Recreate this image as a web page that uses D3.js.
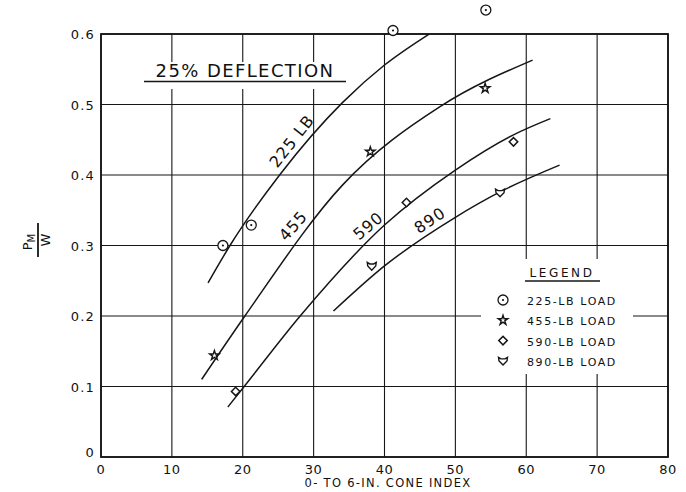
<!DOCTYPE html>
<html>
<head>
<meta charset="utf-8">
<script src="https://cdn.jsdelivr.net/npm/d3@7"></script>
<style>
  body { margin: 0; background: #fff; }
  text { font-family: "DejaVu Sans", sans-serif; fill: #111; }
</style>
</head>
<body>
<div id="chart"></div>
<script>
// ---- data ----
const xTicks = [0, 10, 20, 30, 40, 50, 60, 70, 80]
const yTicks = [0, 0.1, 0.2, 0.3, 0.4, 0.5, 0.6]
const yTickLabels = ["0", "0.1", "0.2", "0.3", "0.4", "0.5", "0.6"]

const loads = ["225", "455", "590", "890"]
const legendLabels = ["225-LB LOAD", "455-LB LOAD", "590-LB LOAD", "890-LB LOAD"]
const curveLabels = ["225 LB", "455", "590", "890"]

// measured points [cone index, Pm/W]
const points225 = [[17.2, 0.300], [21.2, 0.329], [41.2, 0.605], [54.3, 0.634]]
const points455 = [[16.0, 0.144], [38.0, 0.433], [54.2, 0.523]]
const points590 = [[19.0, 0.093], [43.1, 0.361], [58.2, 0.447]]
const points890 = [[38.2, 0.271], [56.3, 0.375]]

// hand drawn fitted curves
const curve225 = [[15.1, 0.247], [18.2, 0.300], [25.2, 0.400], [34.1, 0.503], [40, 0.556], [46.3, 0.600]]
const curve455 = [[14.2, 0.110], [20.3, 0.200], [34.1, 0.386], [48, 0.498], [60.9, 0.563]]
const curve590 = [[17.9, 0.071], [20.2, 0.100], [28.1, 0.200], [40, 0.329], [50, 0.407], [58.2, 0.457], [63.4, 0.480]]
const curve890 = [[32.8, 0.207], [40, 0.271], [50, 0.340], [56.3, 0.376], [64.7, 0.414]]

// where the curve names sit [x, y, angle]
const curveLabelPos = [[26.9, 0.448, -52], [27.1, 0.328, -49], [37.7, 0.328, -40], [46.4, 0.336, -34]]

const pointSets = [points225, points455, points590, points890]
const curveSets = [curve225, curve455, curve590, curve890]

// ---- layout ----
const wSvg = 686, hSvg = 492
const margin = { left: 101, right: 18, top: 34, bottom: 35 }
const ink = "#161616"

const svg = d3.select("#chart")
              .append("svg")
              .attr("width", wSvg)
              .attr("height", hSvg)
              .style("background-color", "#fff")

const xScale = d3.scaleLinear([0, 80], [margin.left, wSvg - margin.right])
const yScale = d3.scaleLinear([0, 0.6], [hSvg - margin.bottom, margin.top])

// grid
svg.append("g")
   .selectAll("line")
   .data(xTicks)
   .enter()
   .append("line")
   .attr("x1", d => xScale(d)).attr("x2", d => xScale(d))
   .attr("y1", yScale(0)).attr("y2", yScale(0.6))
   .attr("stroke", ink)
   .attr("stroke-width", 1.1)

svg.append("g")
   .selectAll("line")
   .data(yTicks)
   .enter()
   .append("line")
   .attr("x1", xScale(0)).attr("x2", xScale(80))
   .attr("y1", d => yScale(d)).attr("y2", d => yScale(d))
   .attr("stroke", ink)
   .attr("stroke-width", 1.1)

// frame
svg.append("rect")
   .attr("x", xScale(0)).attr("y", yScale(0.6))
   .attr("width", xScale(80) - xScale(0))
   .attr("height", yScale(0) - yScale(0.6))
   .attr("fill", "none")
   .attr("stroke", ink)
   .attr("stroke-width", 1.8)

// tick labels
svg.append("g")
   .selectAll("text")
   .data(xTicks)
   .enter()
   .append("text")
   .attr("x", d => xScale(d))
   .attr("y", yScale(0) + 17)
   .attr("text-anchor", "middle")
   .style("font-size", "13px")
   .style("letter-spacing", "0.5px")
   .text(d => d)

svg.append("g")
   .selectAll("text")
   .data(yTicks)
   .enter()
   .append("text")
   .attr("x", xScale(0) - 6)
   .attr("y", (d, i) => yScale(d) + (i == 0 ? 0 : 5))
   .attr("text-anchor", "end")
   .style("font-size", "13px")
   .style("letter-spacing", "1.2px")
   .text((d, i) => yTickLabels[i])

// axis titles
svg.append("text")
   .attr("x", 388)
   .attr("y", 487)
   .attr("text-anchor", "middle")
   .style("font-size", "11.5px")
   .style("letter-spacing", "1.3px")
   .text("0- TO 6-IN. CONE INDEX")

let yLab = svg.append("g").attr("transform", "translate(38, 240) rotate(-90)")
yLab.append("text")
    .attr("x", -2).attr("y", -6)
    .attr("text-anchor", "middle")
    .style("font-size", "13px")
    .html('P<tspan dy="3" font-size="10px">M</tspan>')
yLab.append("line")
    .attr("x1", -17).attr("x2", 17)
    .attr("y1", 0).attr("y2", 0)
    .attr("stroke", ink).attr("stroke-width", 1.8)
yLab.append("text")
    .attr("x", 0).attr("y", 12)
    .attr("text-anchor", "middle")
    .style("font-size", "13px")
    .text("W")

// title box
svg.append("rect")
   .attr("x", 140).attr("y", 62).attr("width", 212).attr("height", 27)
   .attr("fill", "#fff")
svg.append("text")
   .attr("x", 245).attr("y", 77)
   .attr("text-anchor", "middle")
   .style("font-size", "18px")
   .style("letter-spacing", "1.4px")
   .text("25% DEFLECTION")
svg.append("line")
   .attr("x1", 144).attr("x2", 346).attr("y1", 81.5).attr("y2", 81.5)
   .attr("stroke", ink).attr("stroke-width", 1.6)

// curves
const dMaker = d3.line()
  .x(d => xScale(d[0]))
  .y(d => yScale(d[1]))
  .curve(d3.curveMonotoneX)

svg.selectAll("path.fit")
   .data(curveSets)
   .enter()
   .append("path")
   .attr("class", "fit")
   .attr("fill", "none")
   .attr("stroke", ink)
   .attr("stroke-width", 1.5)
   .attr("d", d => dMaker(d))

svg.selectAll("text.curveLabel")
   .data(curveLabels)
   .enter()
   .append("text")
   .attr("class", "curveLabel")
   .attr("text-anchor", "middle")
   .attr("transform", (d, i) => {
     const p = curveLabelPos[i]
     return `translate(${xScale(p[0])}, ${yScale(p[1])}) rotate(${p[2]})`
   })
   .attr("dy", "0.35em")
   .style("font-size", "16px")
   .style("letter-spacing", "1px")
   .text(d => d)

// marker shapes
function drawMarker(g, kind) 
{
  if (kind == 0) {
    g.append("circle").attr("r", 5).attr("fill", "#fff").attr("stroke", ink).attr("stroke-width", 1.3)
    g.append("circle").attr("r", 1.1).attr("fill", ink)
  } else if (kind == 1) {
    g.append("path").attr("d", d3.symbol(d3.symbolStar, 28)())
     .attr("fill", "#fff").attr("stroke", ink).attr("stroke-width", 1.4)
  } else if (kind == 2) {
    g.append("path").attr("d", d3.symbol(d3.symbolSquare, 36)())
     .attr("transform", "rotate(45)")
     .attr("fill", "#fff").attr("stroke", ink).attr("stroke-width", 1.5)
  } else {
    g.append("path").attr("d", "M-4.5,-3.5 L-2,-2 L2,-2 L4.5,-3.5 L4,0 L0,4.2 L-4,0 Z")
     .attr("fill", "#fff").attr("stroke", ink).attr("stroke-width", 1.4)
  }
}

pointSets.forEach((set, k) => {
  set.forEach(p => {
    let g = svg.append("g").attr("transform", `translate(${xScale(p[0])}, ${yScale(p[1])})`)
    drawMarker(g, k)
  })
})

// legend
svg.append("rect")
   .attr("x", 481).attr("y", 259).attr("width", 152).attr("height", 115)
   .attr("fill", "#fff")

svg.append("text")
   .attr("x", 562).attr("y", 277)
   .attr("text-anchor", "middle")
   .style("font-size", "12px")
   .style("letter-spacing", "2.6px")
   .text("LEGEND")
svg.append("line")
   .attr("x1", 525).attr("x2", 600).attr("y1", 281).attr("y2", 281)
   .attr("stroke", ink).attr("stroke-width", 1.5)

loads.forEach((l, i) => {
  const yRow = 300 + i * 20.3
  let g = svg.append("g").attr("transform", `translate(503, ${yRow})`)
  drawMarker(g, i)
  svg.append("text")
     .attr("x", 527).attr("y", yRow + 5)
     .style("font-size", "11px")
     .style("letter-spacing", "1.6px")
     .text(legendLabels[i])
})
</script>
</body>
</html>
